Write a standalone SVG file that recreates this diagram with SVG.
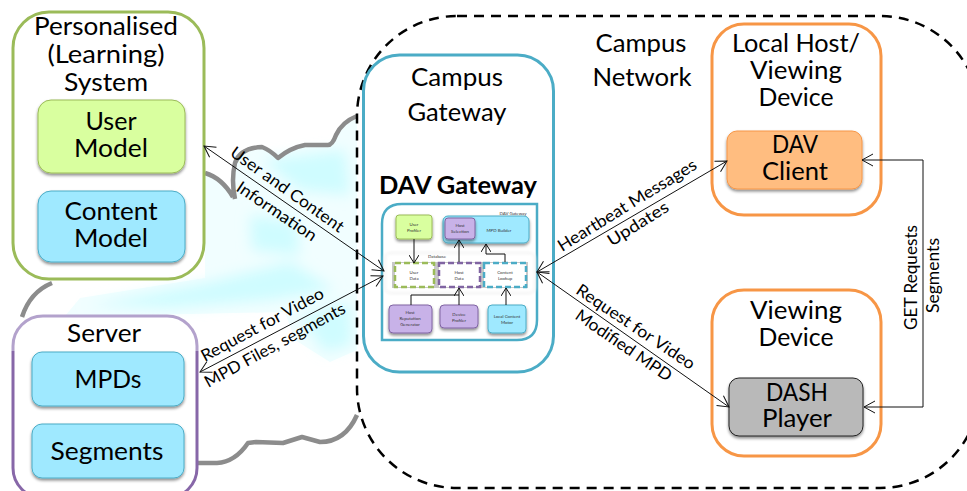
<svg xmlns="http://www.w3.org/2000/svg" width="967" height="491" viewBox="0 0 967 491">
<style>
text{font-family:"Lato","Open Sans","Liberation Sans",sans-serif;fill:#000;text-anchor:middle}
.t{font-size:25px}
.l{font-size:16.500px}
.s{font-size:4.4px;fill:#333}
.g{fill:none;stroke:#8c8c8c;stroke-width:4.5;stroke-linejoin:round}
.c{fill:none;stroke:#111;stroke-width:1;marker-end:url(#a);marker-start:url(#b)}
.i{fill:none;stroke:#111;stroke-width:1;marker-end:url(#ai)}
.j{fill:none;stroke:#111;stroke-width:1}
.blue{fill:#9fe9ff;stroke:#4bacc6;stroke-width:1;filter:url(#sh)}
.green{fill:#d9ff9f;stroke:#9bbb59;stroke-width:1;filter:url(#sh)}
.purple{fill:#c8b2e8;stroke:#8064a2;stroke-width:1;filter:url(#sh)}
.big{fill:#fff;stroke-width:3}
.d{fill:#fff;stroke-width:2.5;stroke-dasharray:6 3}
</style>
<defs>
<filter id="sh" x="-15%" y="-15%" width="130%" height="135%"><feDropShadow dx="0" dy="2" stdDeviation="1.5" flood-color="#000" flood-opacity="0.45"/></filter>
<filter id="bl" x="-20%" y="-20%" width="140%" height="140%"><feGaussianBlur stdDeviation="7"/></filter>
<filter id="pn" x="-10%" y="-20%" width="120%" height="140%"><feGaussianBlur stdDeviation="1.5"/></filter>
<linearGradient id="sv" gradientUnits="userSpaceOnUse" x1="0" y1="316" x2="0" y2="498"><stop offset="0" stop-color="#b3a2cc"/><stop offset="0.19" stop-color="#b3a2cc"/><stop offset="0.19" stop-color="#8767a8"/><stop offset="1" stop-color="#8767a8"/></linearGradient>
<marker id="a" markerWidth="14" markerHeight="14" refX="13" refY="7" orient="auto" markerUnits="userSpaceOnUse"><path d="M2 1L13 7L2 13" fill="none" stroke="#111" stroke-width="1"/></marker>
<marker id="b" markerWidth="14" markerHeight="14" refX="1" refY="7" orient="auto" markerUnits="userSpaceOnUse"><path d="M12 1L1 7L12 13" fill="none" stroke="#111" stroke-width="1"/></marker>
<marker id="ai" markerWidth="10" markerHeight="10" refX="9" refY="5" orient="auto" markerUnits="userSpaceOnUse"><path d="M1 0L9 5L1 10" fill="none" stroke="#111" stroke-width="1"/></marker>
</defs>
<rect width="967" height="491" fill="#fff"/>
<g id="cloud">
<path d="M205 175Q222 180 233 197L235 163Q240 148 262 147Q270 150 278 158Q290 148 305 145L327 145Q332 146 336 135Q342 122 357 116L357 350L330 362L295 340L285 312L190 314L65 316L80 298L205 278Z" fill="#f1feff"/>
<g filter="url(#bl)" fill="#cffcff"><path d="M262 160L345 150L350 195L300 190Z"/><path d="M250 215L296 222L300 255L252 250Z"/><path d="M85 306L210 282L290 262L335 290L270 300L170 308Z"/><path d="M300 318L350 302L352 345L325 352Z"/></g>
<path d="M358.500 100H372V365H358.500Z" fill="#fff"/>
<path class="g" d="M205 173Q222 178 233 197M235 199Q231 180 235 163Q240 148 262 147Q270 150 278 158Q290 148 305 145L327 145Q332 146 336 135Q342 122 357 116"/>
<path class="g" d="M197 463L217 463Q235 462 248 443L256 442L283 443L302 437L320 442Q345 442 357 415"/>
<path class="g" d="M52 283Q30 292 22 317"/>
</g>
<g id="campus-network">
<rect x="357" y="16" width="623" height="472" rx="100" ry="100" fill="none" stroke="#000" stroke-width="2.5" stroke-dasharray="10 7"/>
<text class="t" x="641" y="52" textLength="91" lengthAdjust="spacingAndGlyphs">Campus</text>
<text class="t" x="642" y="86" textLength="99" lengthAdjust="spacingAndGlyphs">Network</text>
</g>
<g id="personalised">
<rect class="big" x="13" y="12" width="191" height="267" rx="36" stroke="#9bbb59"/>
<text class="t" x="106" y="35" textLength="144" lengthAdjust="spacingAndGlyphs">Personalised</text>
<text class="t" x="106" y="63" textLength="117" lengthAdjust="spacingAndGlyphs">(Learning)</text>
<text class="t" x="106" y="91" textLength="84" lengthAdjust="spacingAndGlyphs">System</text>
</g>
<g id="user-model">
<rect class="green" x="38" y="100" width="147" height="73" rx="13"/>
<text class="t" x="111" y="130" textLength="51" lengthAdjust="spacingAndGlyphs">User</text>
<text class="t" x="111" y="157" textLength="74" lengthAdjust="spacingAndGlyphs">Model</text>
</g>
<g id="content-model">
<rect class="blue" x="38" y="191" width="147" height="71" rx="13"/>
<text class="t" x="111" y="220" textLength="93" lengthAdjust="spacingAndGlyphs">Content</text>
<text class="t" x="111" y="247" textLength="74" lengthAdjust="spacingAndGlyphs">Model</text>
</g>
<g id="server">
<rect x="13" y="316" width="184" height="182" rx="30" fill="#fff" stroke="url(#sv)" stroke-width="3"/>
<text class="t" x="104" y="342" textLength="74" lengthAdjust="spacingAndGlyphs">Server</text>
</g>
<g id="mpds">
<rect class="blue" x="32" y="352" width="152" height="54" rx="10"/>
<text class="t" x="108" y="388" textLength="67" lengthAdjust="spacingAndGlyphs">MPDs</text>
</g>
<g id="segments">
<rect class="blue" x="32" y="424" width="152" height="54" rx="10"/>
<text class="t" x="107" y="460" textLength="113" lengthAdjust="spacingAndGlyphs">Segments</text>
</g>
<g id="campus-gateway">
<rect class="big" x="363.500" y="55" width="190" height="317" rx="36" stroke="#4bacc6"/>
<text class="t" x="457" y="86" textLength="92" lengthAdjust="spacingAndGlyphs">Campus</text>
<text class="t" x="457" y="121" textLength="99" lengthAdjust="spacingAndGlyphs">Gateway</text>
<text class="t" x="458" y="194" textLength="158" lengthAdjust="spacingAndGlyphs" font-weight="700">DAV Gateway</text>
</g>
<g id="dav-gateway">
<path d="M402 204H537V320Q537 340 517 340H382V224Q382 204 402 204Z" fill="#fff" stroke="#4bacc6" stroke-width="2.500"/>
</g>
<g id="database">
<rect x="385" y="253" width="150" height="40" rx="5" fill="#fff" stroke="#e4e4e4" stroke-width="1" filter="url(#pn)"/>
<rect x="392" y="262" width="136" height="26" fill="#c8c8c8"/>
<text class="s" x="437" y="258">Database</text>
</g>
<g id="user-profiler">
<rect class="green" x="396" y="215" width="36" height="24" rx="3"/>
<text class="s" x="414" y="226">User</text><text class="s" x="414" y="232">Profiler</text>
</g>
<g id="mpd-builder">
<rect class="blue" x="443" y="216" width="86" height="27" rx="5"/>
<text class="s" x="513" y="215">DAV Gateway</text>
<text class="s" x="499" y="232">MPD Builder</text>
</g>
<g id="host-selection">
<rect class="purple" x="445" y="218" width="30" height="21" rx="3"/>
<text class="s" x="460" y="227">Host</text><text class="s" x="460" y="233">Selection</text>
</g>
<g id="user-data">
<rect class="d" x="395" y="263" width="39" height="24" stroke="#9bbb59"/>
<text class="s" x="414" y="274">User</text><text class="s" x="414" y="280">Data</text>
</g>
<g id="host-data">
<rect class="d" x="439" y="263" width="41" height="24" stroke="#8064a2"/>
<text class="s" x="459" y="274">Host</text><text class="s" x="459" y="280">Data</text>
</g>
<g id="content-lookup">
<rect class="d" x="484" y="263" width="42" height="24" stroke="#4bacc6"/>
<text class="s" x="505" y="274">Content</text><text class="s" x="505" y="280">Lookup</text>
</g>
<g id="host-reputation-generator">
<rect class="purple" x="389" y="305" width="43" height="28" rx="4"/>
<text class="s" x="410" y="314">Host</text><text class="s" x="410" y="320">Reputation</text><text class="s" x="410" y="326">Generator</text>
</g>
<g id="device-profiler">
<rect class="purple" x="440" y="305" width="38" height="23" rx="4"/>
<text class="s" x="459" y="316">Device</text><text class="s" x="459" y="322">Profiler</text>
</g>
<g id="local-content-motor">
<rect class="blue" x="488" y="305" width="38" height="28" rx="4"/>
<text class="s" x="507" y="318">Local Content</text><text class="s" x="507" y="324">Motor</text>
</g>
<g id="local-host">
<rect class="big" x="712" y="24" width="169" height="191" rx="32" stroke="#f79646"/>
<text class="t" x="796" y="52" textLength="128" lengthAdjust="spacingAndGlyphs">Local Host/</text>
<text class="t" x="796" y="79" textLength="92" lengthAdjust="spacingAndGlyphs">Viewing</text>
<text class="t" x="796" y="106" textLength="75" lengthAdjust="spacingAndGlyphs">Device</text>
</g>
<g id="dav-client">
<rect x="727" y="131" width="135" height="58" rx="10" fill="#ffbd80" stroke="#f79646" stroke-width="1" filter="url(#sh)"/>
<text class="t" x="795" y="153" textLength="46" lengthAdjust="spacingAndGlyphs">DAV</text>
<text class="t" x="795" y="180" textLength="66" lengthAdjust="spacingAndGlyphs">Client</text>
</g>
<g id="viewing-device">
<rect class="big" x="712" y="290" width="169" height="166" rx="32" stroke="#f79646"/>
<text class="t" x="796" y="319" textLength="92" lengthAdjust="spacingAndGlyphs">Viewing</text>
<text class="t" x="796" y="346" textLength="75" lengthAdjust="spacingAndGlyphs">Device</text>
</g>
<g id="dash-player">
<rect x="729" y="378" width="134" height="58" rx="10" fill="#b9b9b9" stroke="#222" stroke-width="1" filter="url(#sh)"/>
<text class="t" x="797" y="401" textLength="62" lengthAdjust="spacingAndGlyphs">DASH</text>
<text class="t" x="797" y="427" textLength="70" lengthAdjust="spacingAndGlyphs">Player</text>
</g>
<g id="connectors">
<path class="c" d="M204 146L384 271"/>
<path class="c" d="M200 372L383 276"/>
<path class="c" d="M537 272L727 161"/>
<path class="c" d="M537 272L729 407"/>
<path class="c" d="M862 160H923V407H864"/>
<path class="i" d="M414 239V263"/>
<path class="i" d="M459 262V240"/>
<path class="j" d="M505 262V254H486"/>
<path class="i" d="M486 254V244"/>
<path class="j" d="M411 305V295H459"/>
<path class="i" d="M459 305V288"/>
<path class="i" d="M506 305V288"/>
<g id="connector-labels">
<text class="l" transform="translate(284 194) rotate(35.300)" textLength="135" lengthAdjust="spacingAndGlyphs">User and Content</text>
<text class="l" transform="translate(273.500 216) rotate(34)" textLength="93" lengthAdjust="spacingAndGlyphs">Information</text>
<text class="l" transform="translate(265 329.500) rotate(-28.400)" textLength="137" lengthAdjust="spacingAndGlyphs">Request for Video</text>
<text class="l" transform="translate(277.500 350) rotate(-28.700)" textLength="158" lengthAdjust="spacingAndGlyphs">MPD Files, segments</text>
<text class="l" transform="translate(630 210) rotate(-31.700)" textLength="160" lengthAdjust="spacingAndGlyphs">Heartbeat Messages</text>
<text class="l" transform="translate(641 228.500) rotate(-32)" textLength="69" lengthAdjust="spacingAndGlyphs">Updates</text>
<text class="l" transform="translate(632.500 331.500) rotate(33.800)" textLength="139" lengthAdjust="spacingAndGlyphs">Request for Video</text>
<text class="l" transform="translate(620.500 350) rotate(34.400)" textLength="113" lengthAdjust="spacingAndGlyphs">Modified MPD</text>
<text class="l" transform="translate(917 277.500) rotate(-90)" textLength="105" lengthAdjust="spacingAndGlyphs">GET Requests</text>
<text class="l" transform="translate(939 275.500) rotate(-90)" textLength="75" lengthAdjust="spacingAndGlyphs">Segments</text>
</g>
</g>
</svg>
